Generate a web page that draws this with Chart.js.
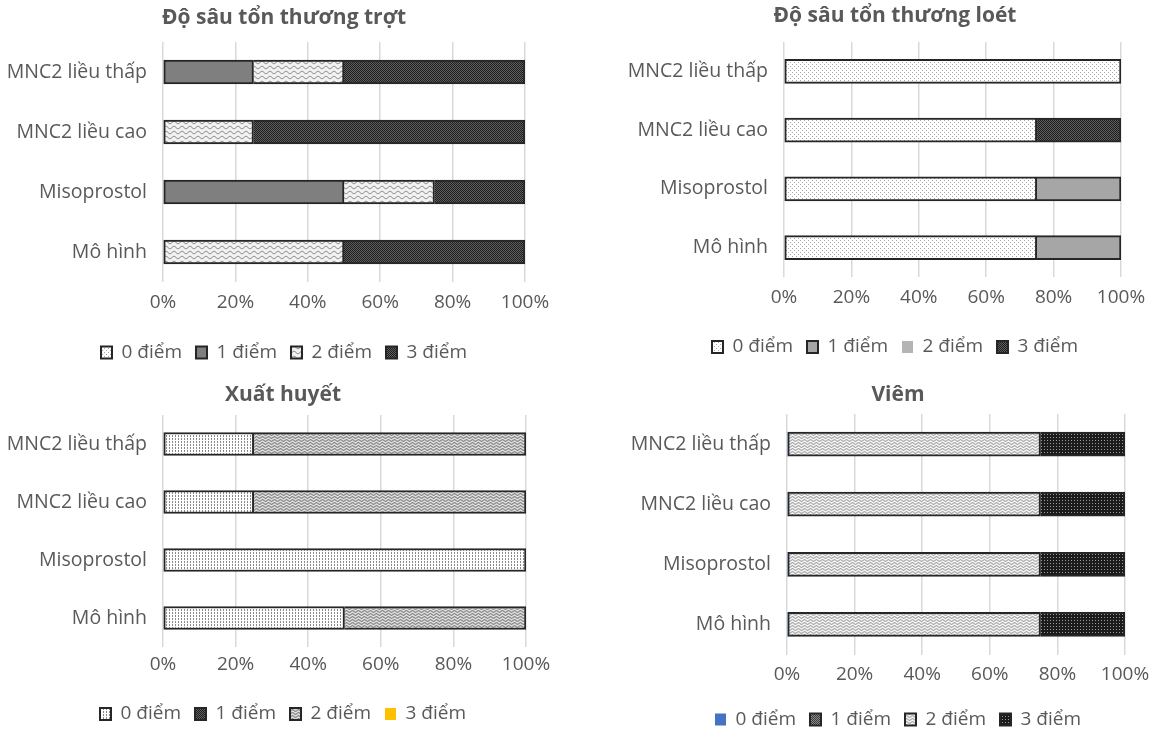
<!DOCTYPE html>
<html>
<head>
<meta charset="utf-8">
<title>Điểm tổn thương theo nhóm</title>
<script src="https://cdn.jsdelivr.net/npm/chart.js@4.4.1/dist/chart.umd.min.js"></script>
<style>
  html, body { margin: 0; padding: 0; background: #ffffff; width: 1158px; height: 732px; overflow: hidden; }
  canvas { position: absolute; }
</style>
</head>
<body>
<canvas id="trot" width="570" height="372" style="left:0px;top:0px"></canvas>
<canvas id="loet" width="550" height="370" style="left:620px;top:0px"></canvas>
<canvas id="xuathuyet" width="568" height="364" style="left:0px;top:370px"></canvas>
<canvas id="viem" width="560" height="369" style="left:620px;top:370px"></canvas>
<script>
// Nhóm thí nghiệm (trục dọc, từ trên xuống)
const groups = ['MNC2 liều thấp', 'MNC2 liều cao', 'Misoprostol', 'Mô hình'];
// Mức điểm (chú giải)
const scoreLabels = ['0 điểm', '1 điểm', '2 điểm', '3 điểm'];
// Vạch chia trục ngang (%)
const xTicks = [0, 20, 40, 60, 80, 100];

// Độ sâu tổn thương trợt: tỷ lệ % mỗi mức điểm trong từng nhóm
const trot0 = [0, 0, 0, 0];
const trot1 = [25, 0, 50, 0];
const trot2 = [25, 25, 25, 50];
const trot3 = [50, 75, 25, 50];

// Độ sâu tổn thương loét
const loet0 = [100, 75, 75, 75];
const loet1 = [0, 0, 25, 25];
const loet2 = [0, 0, 0, 0];
const loet3 = [0, 25, 0, 0];

// Xuất huyết
const xh0 = [25, 25, 100, 50];
const xh1 = [0, 0, 0, 0];
const xh2 = [75, 75, 0, 50];
const xh3 = [0, 0, 0, 0];

// Viêm
const viem0 = [0, 0, 0, 0];
const viem1 = [0, 0, 0, 0];
const viem2 = [75, 75, 75, 75];
const viem3 = [25, 25, 25, 25];

Chart.defaults.font.family = "'Open Sans', 'Noto Sans', sans-serif";
Chart.defaults.color = '#595959';

// ---- hatch fills -------------------------------------------------------
function tile(w, h, bg, draw) {
  const c = document.createElement('canvas');
  c.width = w; c.height = h;
  const g = c.getContext('2d');
  g.fillStyle = bg; g.fillRect(0, 0, w, h);
  if (draw) draw(g);
  return g.createPattern(c, 'repeat');
}
function dots(col, pts) {
  return g => { g.fillStyle = col; pts.forEach(([x, y]) => g.fillRect(x, y, 1, 1)); };
}
function wave(col, w, cy, amp, lw) {
  return g => {
    g.strokeStyle = col; g.lineWidth = lw;
    g.beginPath();
    for (let x = -1; x <= w + 1; x += 0.5) {
      const y = cy + amp * Math.sin(2 * Math.PI * x / w);
      if (x === -1) g.moveTo(x, y); else g.lineTo(x, y);
    }
    g.stroke();
  };
}
const fill = {
  dotsLight: tile(4, 4, '#ffffff', dots('#a8a8a8', [[0, 0], [2, 2]])),
  dotsGrid: tile(3, 3, '#ffffff', dots('#8a8a8a', [[1, 0], [1, 2]])),
  waveLight: tile(8, 5, '#f2f2f2', wave('#7a7a7a', 8, 2.5, 1.2, 1)),
  waveDense: tile(6, 3, '#dedede', wave('#575757', 6, 1.5, 0.8, 1)),
  waveSoft: tile(6, 3, '#f4f4f4', wave('#808080', 6, 1.5, 0.8, 1)),
  checker: tile(2, 2, '#5e5e5e', dots('#1e1e1e', [[0, 0], [1, 1]])),
  checkerMid: tile(2, 2, '#8c8c8c', dots('#3a3a3a', [[0, 0], [1, 1]])),
  gridDark: tile(3, 3, '#1c1c1c', dots('#9a9a9a', [[1, 1]]))
};

const EDGE = '#262626';
const TEXT = '#595959';

// segments that start at the left edge keep their left border, inner ones share the neighbour's
function skipFor(series) {
  return ctx => {
    let start = 0;
    for (let k = 0; k < ctx.datasetIndex; k++) start += series[k][ctx.dataIndex] || 0;
    return start === 0 ? false : 'start';
  };
}

function panel(id, title, series, looks, geo) {
  const datasets = series.map((values, i) => ({
    label: scoreLabels[i],
    data: values,
    backgroundColor: looks[i].bg,
    borderColor: EDGE,
    borderWidth: looks[i].border === false ? 0 : 2,
    borderSkipped: skipFor(series),
    barThickness: geo.bar
  }));
  return new Chart(document.getElementById(id), {
    type: 'bar',
    data: { labels: groups, datasets },
    options: {
      indexAxis: 'y',
      responsive: false,
      animation: false,
      events: [],
      layout: { padding: { left: 0, right: geo.padR, top: 0, bottom: geo.padB } },
      plugins: {
        title: {
          display: true,
          text: title,
          color: TEXT,
          font: { size: 21, weight: 'bold', lineHeight: 1.2 },
          padding: { top: geo.titleTop, bottom: geo.titleBottom }
        },
        legend: {
          position: 'bottom',
          labels: {
            boxWidth: 11,
            boxHeight: 12,
            padding: 14,
            color: TEXT,
            font: { size: 19 }
          }
        },
        tooltip: { enabled: false }
      },
      scales: {
        x: {
          stacked: true,
          min: 0,
          max: 100,
          afterBuildTicks: s => { s.ticks = xTicks.map(v => ({ value: v })); },
          afterFit: s => { s.height = geo.xH; },
          grid: { color: '#d9d9d9', lineWidth: 1.5, drawTicks: false },
          border: { display: false },
          ticks: {
            padding: geo.tickPad,
            color: TEXT,
            font: { size: 19 },
            callback: v => v + '%'
          }
        },
        y: {
          stacked: true,
          afterFit: s => { s.width = geo.yW; },
          grid: { display: false, drawTicks: false },
          border: { display: false },
          ticks: { padding: 16, color: TEXT, font: { size: 19.5 } }
        },
        // empty strip on the right of the plot
        yEdge: {
          type: 'linear',
          axis: 'y',
          position: 'right',
          display: true,
          afterFit: s => { s.width = geo.edge; },
          grid: { display: false, drawTicks: false },
          border: { display: false },
          ticks: { display: false }
        }
      }
    }
  });
}

panel('trot', 'Độ sâu tổn thương trợt', [trot0, trot1, trot2, trot3],
  [{ bg: fill.dotsLight }, { bg: '#7f7f7f' }, { bg: fill.waveLight }, { bg: fill.checker }],
  { padR: 2, padB: 0, yW: 163, edge: 43, titleTop: 5.4, titleBottom: 11.4, xH: 47, tickPad: 9.6, bar: 24 });

panel('loet', 'Độ sâu tổn thương loét', [loet0, loet1, loet2, loet3],
  [{ bg: fill.dotsLight }, { bg: '#a6a6a6' }, { bg: '#b4b4b4', border: false }, { bg: fill.checker }],
  { padR: 0, padB: 3.5, yW: 164, edge: 49, titleTop: 3.4, titleBottom: 13.4, xH: 46.5, tickPad: 9.6, bar: 24 });

panel('xuathuyet', 'Xuất huyết', [xh0, xh1, xh2, xh3],
  [{ bg: fill.dotsGrid }, { bg: fill.checker }, { bg: fill.waveDense }, { bg: '#ffc000', border: false }],
  { padR: 2, padB: 0.5, yW: 163, edge: 40, titleTop: 12.4, titleBottom: 7.4, xH: 43.5, tickPad: 6.6, bar: 23 });

panel('viem', 'Viêm', [viem0, viem1, viem2, viem3],
  [{ bg: '#4472c4', border: false }, { bg: fill.checkerMid }, { bg: fill.waveSoft }, { bg: fill.gridDark }],
  { padR: 4, padB: 0, yW: 167, edge: 51, titleTop: 12.4, titleBottom: 6.4, xH: 41.5, tickPad: 9.1, bar: 24 });
</script>
</body>
</html>
